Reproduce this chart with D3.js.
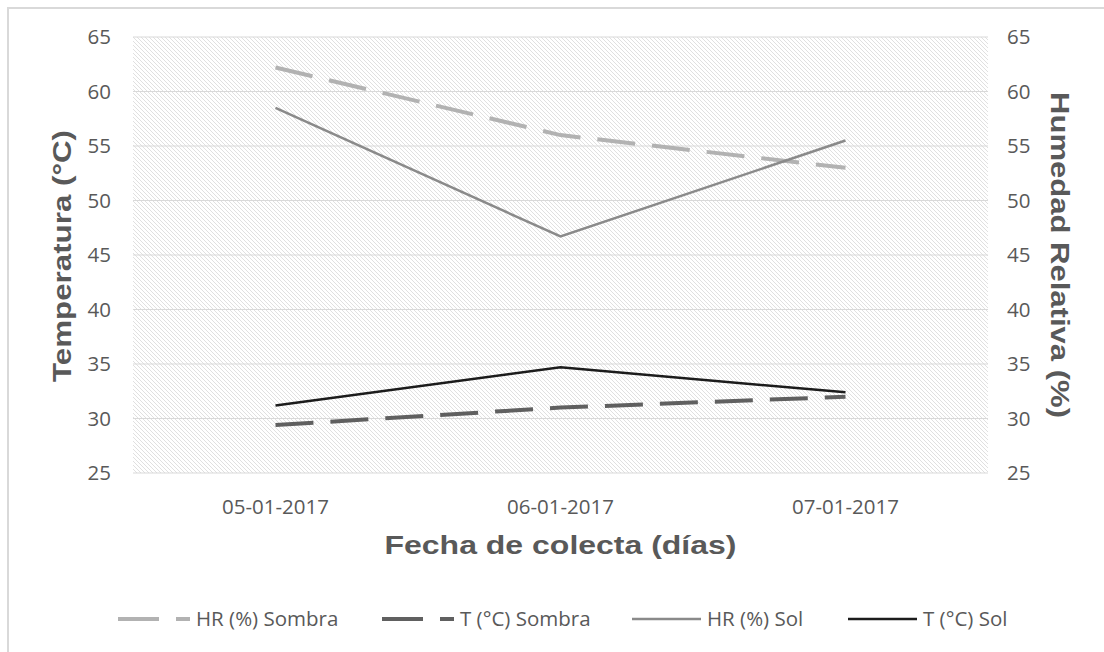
<!DOCTYPE html>
<html lang="es">
<head>
<meta charset="utf-8">
<title>Temperatura y humedad relativa</title>
<script src="https://d3js.org/d3.v7.min.js"></script>
<style>
  body { margin: 0; background: #fff; }
  .tick text { font-family: "Open Sans", "Noto Sans", sans-serif; font-size: 20.5px; fill: #595959; }
  .axisTitle { font-family: "Liberation Sans", Arial, sans-serif; font-weight: bold; font-size: 25px; fill: #595959; }
  .legend text { font-family: "Open Sans", "Noto Sans", sans-serif; font-size: 20.5px; fill: #595959; }
</style>
</head>
<body>
<script>
var fechas = ["05-01-2017", "06-01-2017", "07-01-2017"];
var hrSombra = [62.2, 56.0, 53.0];
var tSombra = [29.4, 31.0, 32.0];
var hrSol = [58.5, 46.7, 55.5];
var tSol = [31.2, 34.7, 32.4];
var yTicks = [25, 30, 35, 40, 45, 50, 55, 60, 65];

var series = [
  {name: "HR (%) Sombra", values: hrSombra, color: "#b2b2b2", width: 4, dash: "38,17"},
  {name: "T (°C) Sombra", values: tSombra, color: "#606060", width: 4, dash: "38,17"},
  {name: "HR (%) Sol", values: hrSol, color: "#8a8a8a", width: 2.5, dash: null},
  {name: "T (°C) Sol", values: tSol, color: "#1c1c1c", width: 2.5, dash: null}
];

var W = 1104, H = 652;
var margin = {top: 37, right: 116, bottom: 179, left: 133};
var width = W - margin.left - margin.right,
    height = H - margin.top - margin.bottom;

var svg = d3.select("body").append("svg")
    .attr("width", W)
    .attr("height", H);

// outer frame (only top and left show in the picture)
svg.append("rect")
    .attr("x", 8).attr("y", 8)
    .attr("width", 1200).attr("height", 800)
    .attr("fill", "none")
    .attr("stroke", "#d9d9d9")
    .attr("stroke-width", 2);

var defs = svg.append("defs");
var pat = defs.append("pattern")
    .attr("id", "hatch")
    .attr("patternUnits", "userSpaceOnUse")
    .attr("width", 4).attr("height", 4);
pat.append("rect").attr("width", 4).attr("height", 4).attr("fill", "#fff");
pat.append("path")
    .attr("d", "M-1,-1 L5,5 M-1,3 L1,5 M3,-1 L5,1")
    .attr("stroke", "#e0e0e0")
    .attr("stroke-width", 1);

var g = svg.append("g")
    .attr("transform", "translate(" + margin.left + "," + margin.top + ")");

var x = d3.scaleBand().domain(fechas).range([0, width]);
var y = d3.scaleLinear().domain([25, 65]).range([height, 0]);

g.append("rect")
    .attr("width", width).attr("height", height)
    .attr("fill", "url(#hatch)");

// grid
g.selectAll(".grid")
    .data(yTicks)
    .enter().append("line")
    .attr("x1", 0).attr("x2", width)
    .attr("y1", function(d) { return y(d); })
    .attr("y2", function(d) { return y(d); })
    .attr("stroke", "#d9d9d9")
    .attr("stroke-width", 1);

var yLeft = g.append("g")
    .call(d3.axisLeft(y).tickValues(yTicks).tickSize(0).tickPadding(22));
yLeft.select(".domain").remove();

var yRight = g.append("g")
    .attr("transform", "translate(" + width + ",0)")
    .call(d3.axisRight(y).tickValues(yTicks).tickSize(0).tickPadding(19));
yRight.select(".domain").remove();

var xAxis = g.append("g")
    .attr("transform", "translate(0," + height + ")")
    .call(d3.axisBottom(x).tickSize(0).tickPadding(26));
xAxis.select(".domain").remove();

var line = d3.line()
    .x(function(d, i) { return x(fechas[i]) + x.bandwidth() / 2; })
    .y(function(d) { return y(d); });

series.forEach(function(s) {
  g.append("path")
    .datum(s.values)
    .attr("fill", "none")
    .attr("stroke", s.color)
    .attr("stroke-width", s.width)
    .attr("stroke-dasharray", s.dash)
    .attr("d", line);
});

// axis titles (stretched a little, as in the original)
svg.append("text")
    .attr("class", "axisTitle")
    .attr("transform", "translate(62,256) rotate(-90)")
    .attr("text-anchor", "middle")
    .attr("dominant-baseline", "central")
    .attr("textLength", 252)
    .attr("lengthAdjust", "spacingAndGlyphs")
    .text("Temperatura (°C)");

svg.append("text")
    .attr("class", "axisTitle")
    .attr("transform", "translate(1060,255) rotate(90)")
    .attr("text-anchor", "middle")
    .attr("dominant-baseline", "central")
    .attr("textLength", 326)
    .attr("lengthAdjust", "spacingAndGlyphs")
    .text("Humedad Relativa (%)");

svg.append("text")
    .attr("class", "axisTitle")
    .attr("x", margin.left + width / 2)
    .attr("y", 554)
    .attr("text-anchor", "middle")
    .attr("textLength", 352)
    .attr("lengthAdjust", "spacingAndGlyphs")
    .text("Fecha de colecta (días)");

// legend
var legX = [118, 382, 632, 848];
var leg = svg.append("g").attr("class", "legend");
series.forEach(function(s, i) {
  var item = leg.append("g").attr("transform", "translate(" + legX[i] + ",619)");
  if (s.dash) {
    item.append("line").attr("x1", 0).attr("x2", 41)
      .attr("stroke", s.color).attr("stroke-width", s.width);
    item.append("line").attr("x1", 58).attr("x2", 72)
      .attr("stroke", s.color).attr("stroke-width", s.width);
  } else {
    item.append("line").attr("x1", 0).attr("x2", 69)
      .attr("stroke", s.color).attr("stroke-width", s.width);
  }
  item.append("text")
    .attr("x", s.dash ? 78 : 75)
    .attr("dy", "0.35em")
    .text(s.name);
});
</script>
</body>
</html>
